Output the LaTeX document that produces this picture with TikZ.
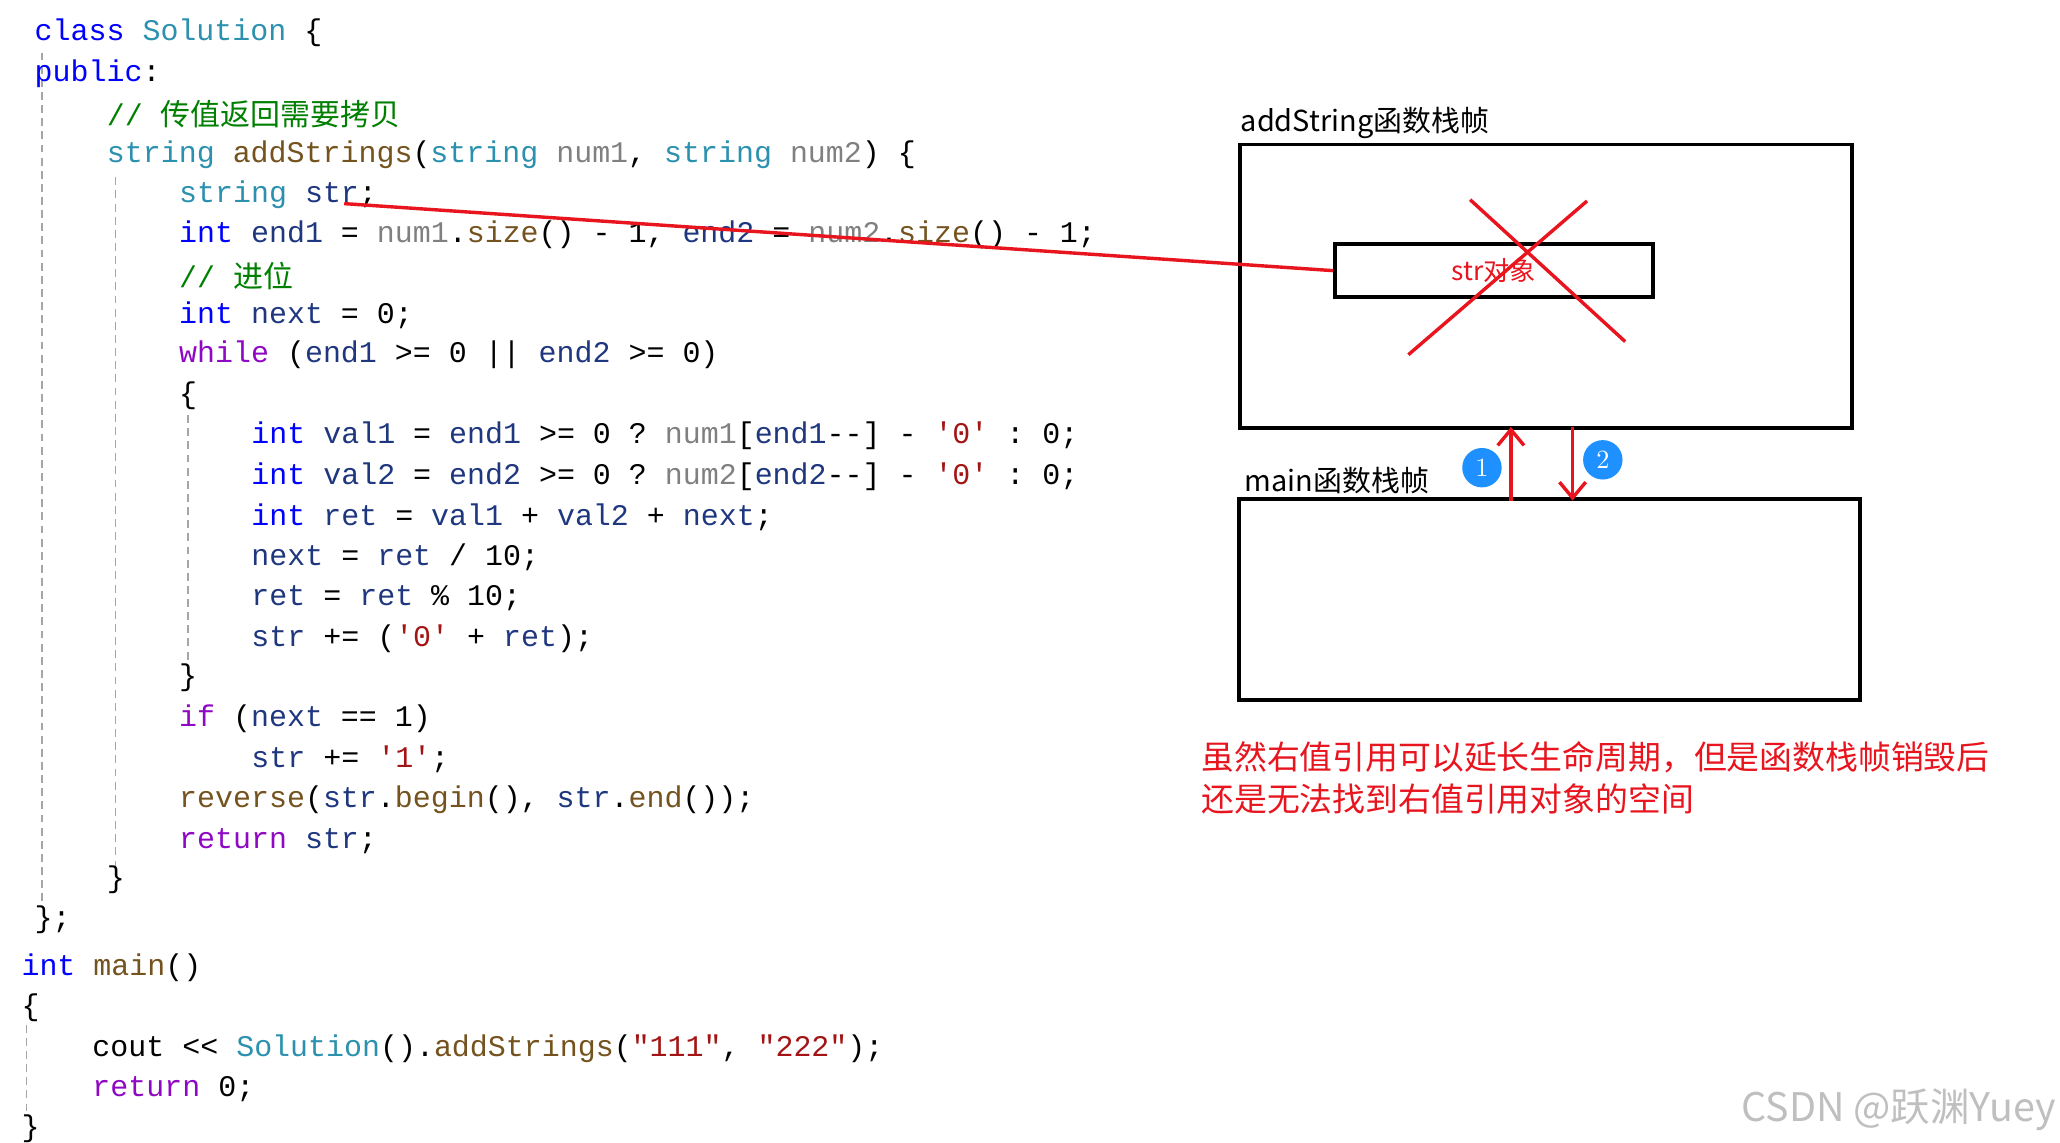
\documentclass[tikz,border=0pt]{standalone}
\usepackage{fontspec}
\usetikzlibrary{arrows.meta}
\setmonofont{Liberation Mono}
\newfontfamily\cjk{Noto Sans CJK SC}
\definecolor{ckw}{HTML}{0000FF}
\definecolor{cty}{HTML}{2B91AF}
\definecolor{cpa}{HTML}{808080}
\definecolor{cst}{HTML}{A31515}
\definecolor{ccm}{HTML}{008000}
\definecolor{cct}{HTML}{8F08C4}
\definecolor{cvr}{HTML}{1F377F}
\definecolor{cfn}{HTML}{74531F}
\definecolor{redl}{HTML}{E8141E}
\definecolor{circ}{HTML}{1E90FF}
\newcommand\cKw[1]{\textcolor{ckw}{#1}}
\newcommand\cTy[1]{\textcolor{cty}{#1}}
\newcommand\cPa[1]{\textcolor{cpa}{#1}}
\newcommand\cSt[1]{\textcolor{cst}{#1}}
\newcommand\cCm[1]{\textcolor{ccm}{#1}}
\newcommand\cCt[1]{\textcolor{cct}{#1}}
\newcommand\cVr[1]{\textcolor{cvr}{#1}}
\newcommand\cFn[1]{\textcolor{cfn}{#1}}
\begin{document}
\begin{tikzpicture}[x=0.5pt,y=-0.5pt,
  code/.style={anchor=west,inner sep=0pt,font=\ttfamily\fontsize{11.4}{13}\selectfont},
  guide/.style={draw=black!35,densely dashed,line width=0.5pt},
  frame/.style={draw=black,line width=1.5pt},
  redline/.style={draw=redl,line width=1.3pt},
  num/.style={circle,fill=circ,text=white,minimum size=15pt,inner sep=0pt,font=\fontsize{10}{10}\selectfont}]
\useasboundingbox[fill=white] (0,0) rectangle (1568,870);
% indentation guides
\draw[guide] (32,40) -- (32,690);
\draw[guide] (88,135) -- (88,660);
\draw[guide] (143,316) -- (143,505);
\draw[guide] (20,780) -- (20,850);
% code
\node[code] (l1) at (26,25) {\cKw{class} \cTy{Solution} \{};
\node[code] (l2) at (26,56) {\cKw{public}:};
\node[code] (l3) at (81,87) {\cCm{// {\cjk 传值返回需要拷贝}}};
\node[code] (l4) at (81,118) {\cTy{string} \cFn{addStrings}(\cTy{string} \cPa{num1}, \cTy{string} \cPa{num2}) \{};
\node[code] (l5) at (136,148) {\cTy{string} \cVr{str};};
\node[code] (l6) at (136,179) {\cKw{int} \cVr{end1} = \cPa{num1}.\cFn{size}() - 1, \cVr{end2} = \cPa{num2}.\cFn{size}() - 1;};
\node[code] (l7) at (136,210) {\cCm{// {\cjk 进位}}};
\node[code] (l8) at (136,240) {\cKw{int} \cVr{next} = 0;};
\node[code] (l9) at (136,270) {\cCt{while} (\cVr{end1} >= 0 || \cVr{end2} >= 0)};
\node[code] (l10) at (136,301) {\{};
\node[code] (l11) at (191,332) {\cKw{int} \cVr{val1} = \cVr{end1} >= 0 ? \cPa{num1}[\cVr{end1}-{}-] - \cSt{'0'} : 0;};
\node[code] (l12) at (191,363) {\cKw{int} \cVr{val2} = \cVr{end2} >= 0 ? \cPa{num2}[\cVr{end2}-{}-] - \cSt{'0'} : 0;};
\node[code] (l13) at (191,394) {\cKw{int} \cVr{ret} = \cVr{val1} + \cVr{val2} + \cVr{next};};
\node[code] (l14) at (191,424) {\cVr{next} = \cVr{ret} / 10;};
\node[code] (l15) at (191,455) {\cVr{ret} = \cVr{ret} \% 10;};
\node[code] (l16) at (191,486) {\cVr{str} += (\cSt{'0'} + \cVr{ret});};
\node[code] (l17) at (136,516) {\}};
\node[code] (l18) at (136,547) {\cCt{if} (\cVr{next} == 1)};
\node[code] (l19) at (191,578) {\cVr{str} += \cSt{'1'};};
\node[code] (l20) at (136,609) {\cFn{reverse}(\cVr{str}.\cFn{begin}(), \cVr{str}.\cFn{end}());};
\node[code] (l21) at (136,640) {\cCt{return} \cVr{str};};
\node[code] (l22) at (81,670) {\}};
\node[code] (l23) at (26,700) {\};};
\node[code] (l24) at (16,737) {\cKw{int} \cFn{main}()};
\node[code] (l25) at (16,767) {\{};
\node[code] (l26) at (70,798) {cout << \cTy{Solution}().\cFn{addStrings}(\cSt{"111"}, \cSt{"222"});};
\node[code] (l27) at (70,829) {\cCt{return} 0;};
\node[code] (l28) at (16,859) {\}};
% frames
\node[anchor=south west,inner sep=1pt,font=\cjk\fontsize{11}{13}\selectfont] (lab1) at (942,108) {addString函数栈帧};
\draw[frame] (944,110) rectangle (1410,326);
\node[frame,minimum width=121pt,minimum height=20pt,inner sep=0pt,text=redl,font=\cjk\fontsize{10}{12}\selectfont] (strobj) at (1137,206) {str对象};
\draw[redline] (1119,152) -- (1237,260);
\draw[redline] (1208,153) -- (1072,270);
\coordinate (strdecl) at (262,155);
\draw[redline] (strdecl) -- (strobj.west);
\node[anchor=south west,inner sep=1pt,font=\cjk\fontsize{11}{13}\selectfont] (lab2) at (945,378) {main函数栈帧};
\draw[frame] (943,380) rectangle (1416,533);
\coordinate (a1s) at (1150,381); \coordinate (a1e) at (1150,325);
\coordinate (a2s) at (1197,325); \coordinate (a2e) at (1197,381);
\draw[redline,-{Straight Barb[length=6pt,width=10pt]}] (a1s) -- (a1e);
\draw[redline,-{Straight Barb[length=6pt,width=10pt]}] (a2s) -- (a2e);
\node[num] (n1) at (1128,356) {1};
\node[num] (n2) at (1220,350) {2};
\node[anchor=west,inner sep=0pt,text=redl,font=\cjk\fontsize{12.5}{16}\selectfont,align=left] (note) at (914,592) {虽然右值引用可以延长生命周期，但是函数栈帧销毁后\\还是无法找到右值引用对象的空间};
\node[anchor=east,inner sep=0pt,text=black!25,font=\cjk\fontsize{15}{16}\selectfont] (wm) at (1565,845) {CSDN @跃渊Yuey};
\end{tikzpicture}
\end{document}
